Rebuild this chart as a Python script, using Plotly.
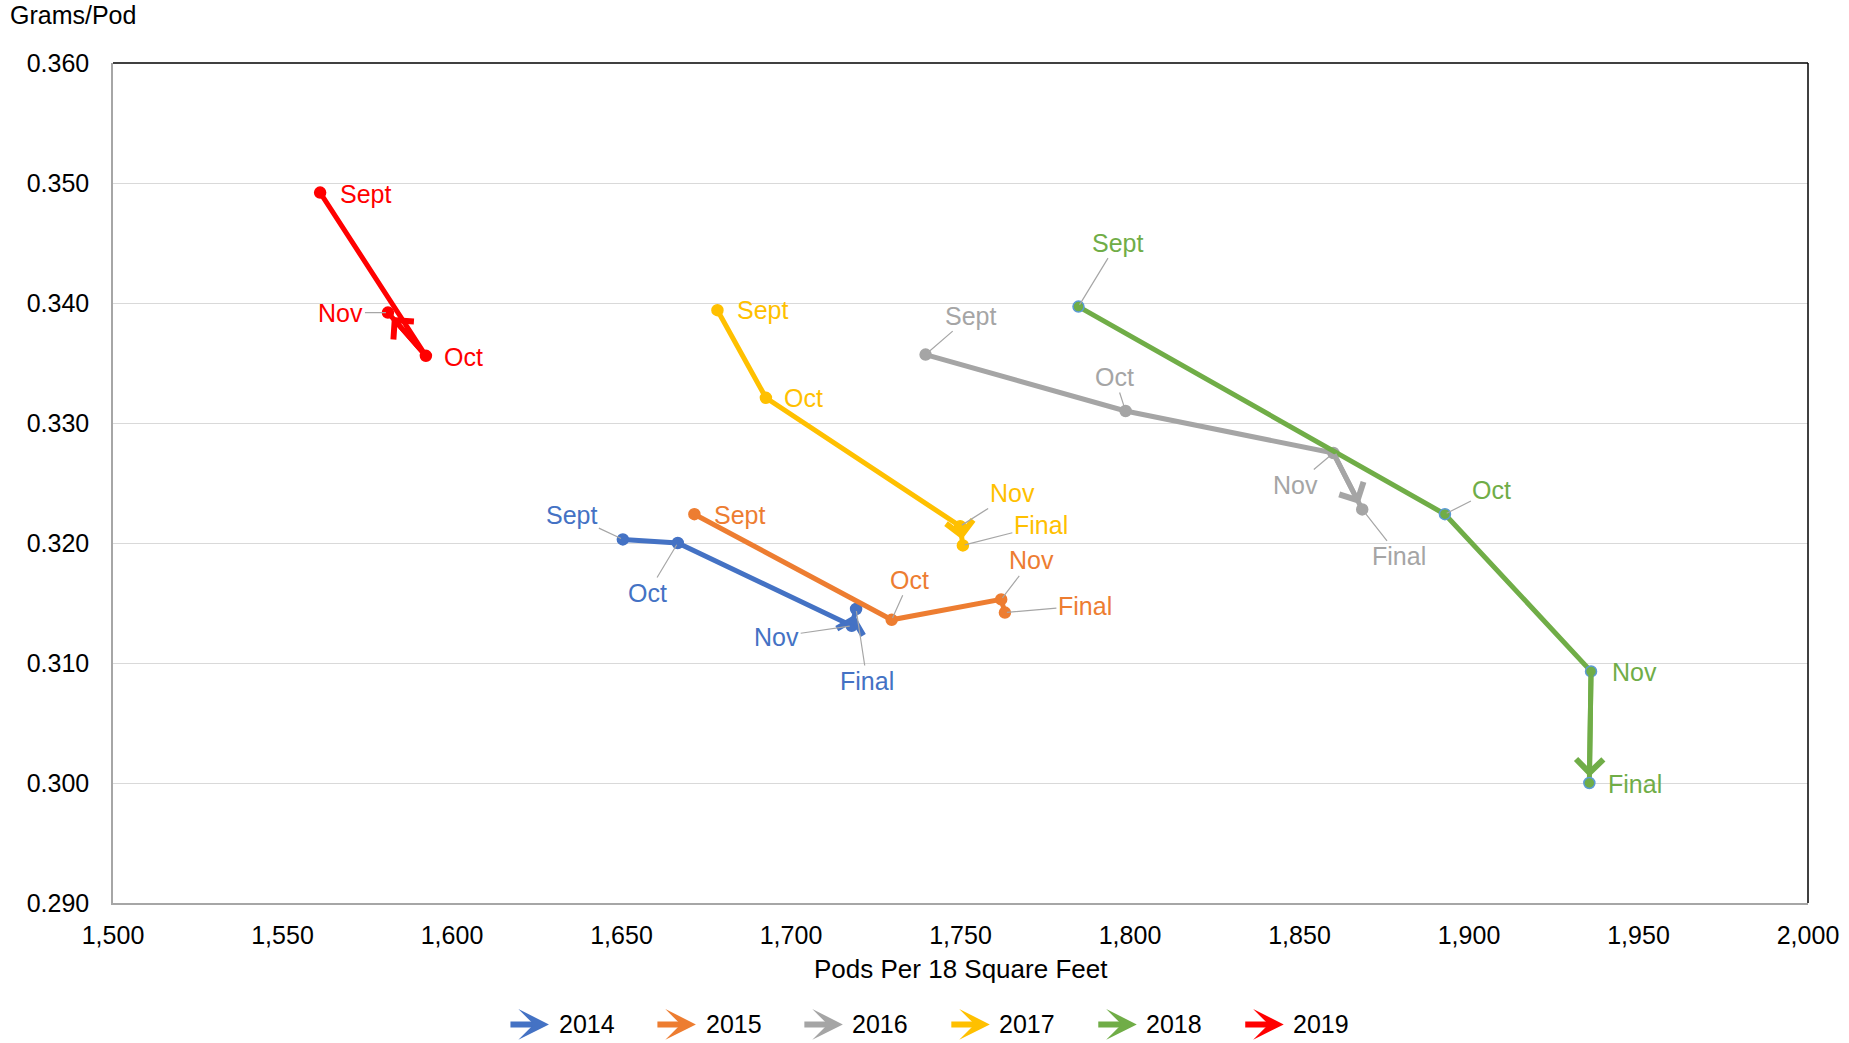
import plotly.graph_objects as go

# ---------------- data ----------------
years = ["2014", "2015", "2016", "2017", "2018", "2019"]

x_2014 = [1650.4, 1666.6, 1717.9, 1719.2]
y_2014 = [0.3203, 0.3200, 0.3131, 0.3145]
m_2014 = ["Sept", "Oct", "Nov", "Final"]

x_2015 = [1671.5, 1729.7, 1762.0, 1763.1]
y_2015 = [0.3224, 0.3136, 0.3153, 0.3142]
m_2015 = ["Sept", "Oct", "Nov", "Final"]

x_2016 = [1739.7, 1798.7, 1860.0, 1868.5]
y_2016 = [0.3357, 0.3310, 0.3275, 0.3228]
m_2016 = ["Sept", "Oct", "Nov", "Final"]

x_2017 = [1678.3, 1692.6, 1749.9, 1750.7]
y_2017 = [0.3394, 0.3321, 0.3214, 0.3198]
m_2017 = ["Sept", "Oct", "Nov", "Final"]

x_2018 = [1784.8, 1892.9, 1936.0, 1935.5]
y_2018 = [0.3397, 0.3224, 0.3093, 0.3000]
m_2018 = ["Sept", "Oct", "Nov", "Final"]

x_2019 = [1561.1, 1592.3, 1581.1]
y_2019 = [0.3492, 0.3356, 0.3392]
m_2019 = ["Sept", "Oct", "Nov"]

x_ticks = [1500, 1550, 1600, 1650, 1700, 1750, 1800, 1850, 1900, 1950, 2000]
y_ticks = [0.290, 0.300, 0.310, 0.320, 0.330, 0.340, 0.350, 0.360]

series = {
    "2014": (x_2014, y_2014, m_2014),
    "2015": (x_2015, y_2015, m_2015),
    "2016": (x_2016, y_2016, m_2016),
    "2017": (x_2017, y_2017, m_2017),
    "2018": (x_2018, y_2018, m_2018),
    "2019": (x_2019, y_2019, m_2019),
}

# ---------------- styles ----------------
colors = {
    "2014": "#4472C4",
    "2015": "#ED7D31",
    "2016": "#A5A5A5",
    "2017": "#FFC000",
    "2018": "#70AD47",
    "2019": "#FF0000",
}
marker_outline = {"2018": "#5B9BD5"}

# label offsets in pixels (dx, dy) and whether a leader line is drawn
label_pos = {
    "2014": [(-51, -24, True), (-30, 50, True), (-75, 11, True), (11, 72, True)],
    "2015": [(45, 1, False), (18, -40, True), (30, -39, True), (80, -7, True)],
    "2016": [(45, -39, True), (-11, -34, True), (-38, 32, True), (37, 47, True)],
    "2017": [(45, 0, False), (38, 0, False), (52, -33, True), (78, -20, True)],
    "2018": [(39, -64, True), (47, -24, True), (43, 1, False), (46, 1, False)],
    "2019": [(45, 1, False), (38, 1, False), (-47, 0, True)],
}

FONT = "Liberation Sans, Arial, sans-serif"
fig = go.Figure()
annotations = []

for yr in years:
    xs, ys, ms = series[yr]
    c = colors[yr]
    fig.add_trace(go.Scatter(
        x=xs, y=ys, mode="lines+markers", name=yr, showlegend=False,
        line=dict(color=c, width=5),
        marker=dict(size=11, color=c, line=dict(color=marker_outline.get(yr, c), width=1.5)),
        hoverinfo="skip",
    ))
    # arrow on last segment
    annotations.append(dict(
        x=xs[-1], y=ys[-1], ax=xs[-2], ay=ys[-2],
        xref="x", yref="y", axref="x", ayref="y",
        text="", showarrow=True, arrowhead=4, arrowsize=1.05,
        arrowwidth=5, arrowcolor=c, standoff=6,
    ))
    # data labels
    for xv, yv, mv, (dx, dy, lead) in zip(xs, ys, ms, label_pos[yr]):
        if lead:
            annotations.append(dict(
                x=xv, y=yv, xref="x", yref="y", text=mv,
                showarrow=True, ax=dx, ay=dy, arrowhead=0,
                arrowwidth=1.2, arrowcolor="#A6A6A6", standoff=2,
                font=dict(family=FONT, size=25, color=c),
            ))
        else:
            annotations.append(dict(
                x=xv, y=yv, xref="x", yref="y", text=mv,
                showarrow=False, xshift=dx, yshift=-dy,
                font=dict(family=FONT, size=25, color=c),
            ))

# manual legend with arrow icons
LEG_Y = -0.1445
for i, yr in enumerate(years):
    tip = 0.2572 + 0.0867 * i
    annotations.append(dict(
        x=tip, y=LEG_Y, xref="paper", yref="paper", ax=-40, ay=0,
        text="", showarrow=True, arrowhead=3, arrowsize=0.85,
        arrowwidth=6, arrowcolor=colors[yr],
    ))
    annotations.append(dict(
        x=tip + 0.0045, y=LEG_Y, xref="paper", yref="paper",
        text=yr, showarrow=False, xanchor="left", yanchor="middle",
        font=dict(family=FONT, size=25, color="#000000"),
    ))

# axis titles
annotations.append(dict(
    x=-0.062, y=1.057, xref="paper", yref="paper", text="Grams/Pod",
    showarrow=False, xanchor="left", yanchor="middle",
    font=dict(family=FONT, size=25, color="#000000"),
))
annotations.append(dict(
    x=0.5, y=-0.0785, xref="paper", yref="paper", text="Pods Per 18 Square Feet",
    showarrow=False, xanchor="center", yanchor="middle",
    font=dict(family=FONT, size=26, color="#000000"),
))

fig.update_layout(
    width=1849, height=1043,
    margin=dict(l=113, r=41, t=63, b=140),
    paper_bgcolor="white", plot_bgcolor="white",
    font=dict(family=FONT, size=25, color="#000000"),
    annotations=annotations,
    shapes=[
        dict(type="line", xref="paper", yref="paper", x0=0, x1=1, y0=1, y1=1,
             line=dict(color="#000000", width=1.5)),
        dict(type="line", xref="paper", yref="paper", x0=1, x1=1, y0=0, y1=1,
             line=dict(color="#000000", width=1.5)),
    ],
    xaxis=dict(
        range=[1500, 2000], tickvals=x_ticks, tickformat=",d",
        showgrid=False, zeroline=False, showline=True,
        linecolor="#A6A6A6", linewidth=1.5, ticks="",
        ticklabelstandoff=9, automargin=False,
        tickfont=dict(family=FONT, size=25, color="#000000"),
    ),
    yaxis=dict(
        range=[0.290, 0.360], tickvals=y_ticks, tickformat=".3f",
        showgrid=True, gridcolor="#D9D9D9", gridwidth=1.3,
        zeroline=False, showline=True, linecolor="#A6A6A6", linewidth=1.5,
        ticks="", ticklabelstandoff=17, automargin=False,
        tickfont=dict(family=FONT, size=25, color="#000000"),
    ),
)

fig.write_html(
    "out.html",
    config={"displayModeBar": False},
    post_script="document.body.style.margin='0px';document.body.style.overflow='hidden';",
)
